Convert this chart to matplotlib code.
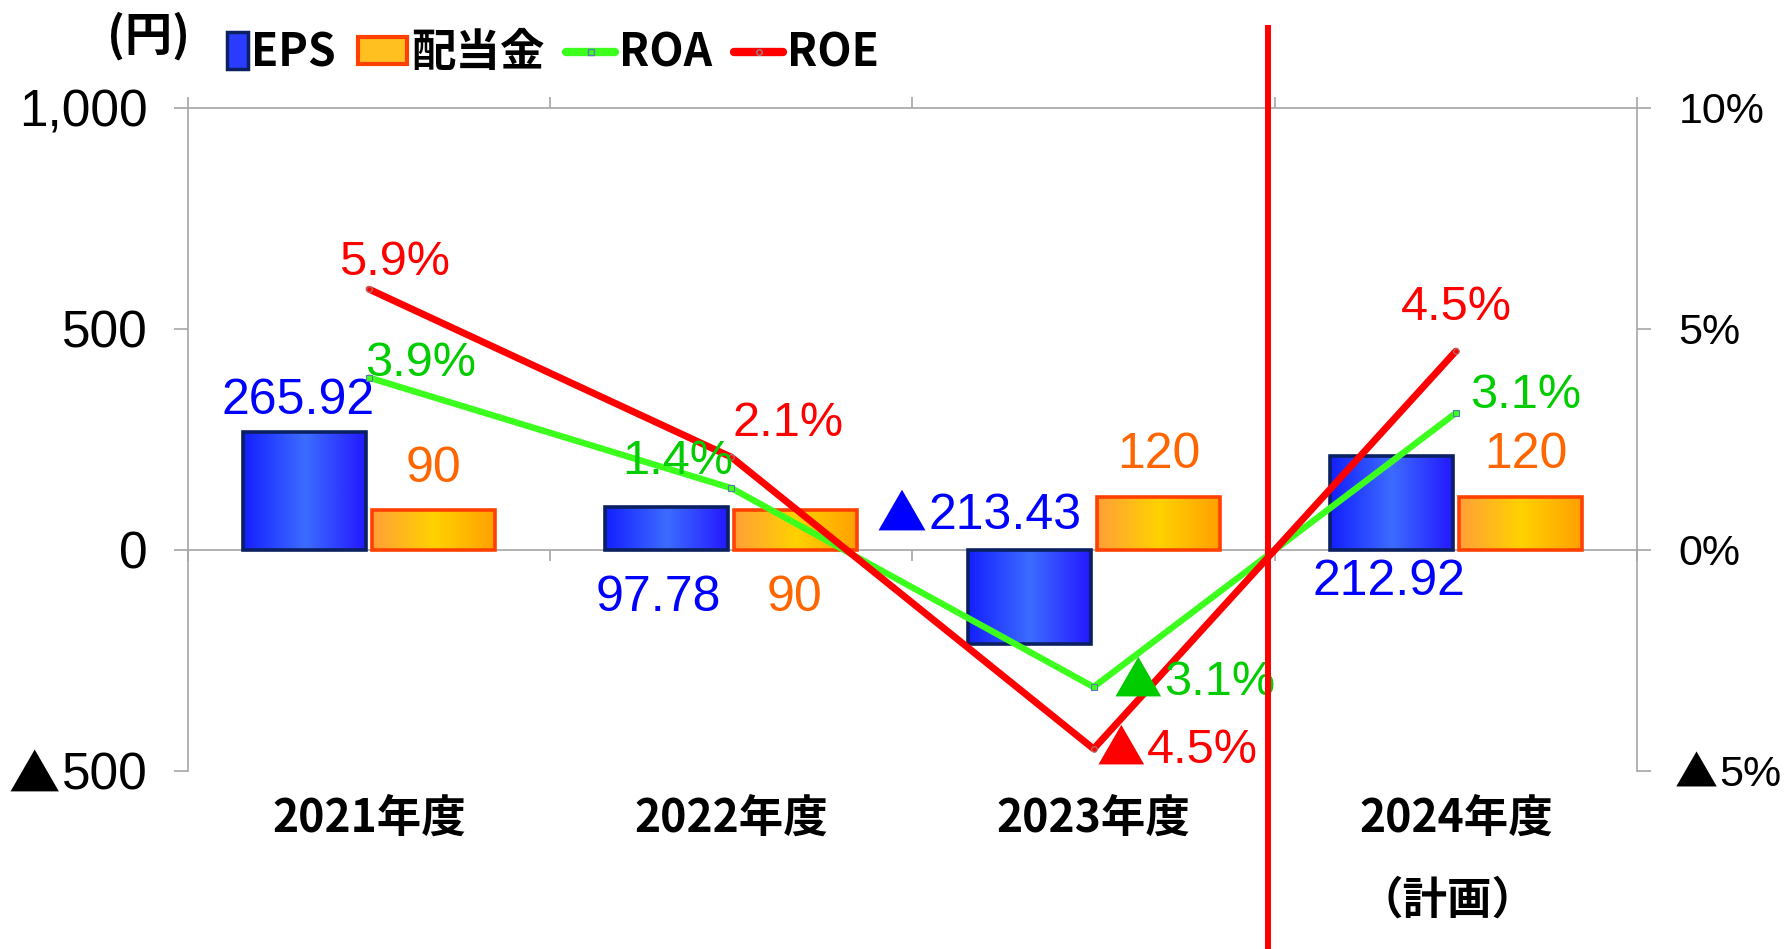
import numpy as np
import matplotlib.pyplot as plt
from matplotlib.patches import Patch, Rectangle
from matplotlib.lines import Line2D
from matplotlib.legend_handler import HandlerPatch
from matplotlib.transforms import ScaledTranslation
from matplotlib.colors import to_rgb

# ---- data ----
years = ['2021年度', '2022年度', '2023年度', '2024年度\n（計画）']
eps = [265.92, 97.78, -213.43, 212.92]
dividend = [90, 90, 120, 120]
roa = [3.9, 1.4, -3.1, 3.1]
roe = [5.9, 2.1, -4.5, 4.5]
yen_ticks = [-500, 0, 500, 1000]
pct_ticks = [-5, 0, 5, 10]

# label offsets in pixels from each mark (dx, dy)
eps_off = [(-7, 31), (-9, -91), (-24, 128), (-2, -126)]
div_off = [(0, 41), (-1, -88), (1, 42), (6, 42)]
roa_off = [(52, 14), (-54, 27), (126, 4), (70, 17)]
roe_off = [(25, 27), (57, 34), (109, -2), (0, 44)]

PLAN_DIVIDER = 2.48

NUM_FONT = ['Liberation Sans', 'DejaVu Sans']
JP_FONT = ['Noto Sans CJK JP', 'DejaVu Sans']
GRAY = '#a6a6a6'


def put_label(ax, xy, v, fmt, off, color, size):
    t = ax.annotate(fmt.format(abs(v)), xy, xytext=off, textcoords='offset pixels',
                    ha='center', va='center', color=color, fontsize=size,
                    family=NUM_FONT, zorder=6)
    if v < 0:
        ax.annotate('▲', xy=(0, 0.5), xycoords=t, xytext=(-2, 0),
                    textcoords='offset pixels', ha='right', va='center',
                    color=color, fontsize=size, family=JP_FONT, zorder=6)
    return t


def neg_ticks(ax, ticks, values, size, right=False, shift=0.0):
    # Japanese style: negative tick labels get a leading ▲
    for tick, v in zip(ticks, values):
        if v >= 0:
            continue
        lbl = tick.label2 if right else tick.label1
        if shift:
            # keep the ▲ where the label starts, push the number right
            lbl.set_transform(lbl.get_transform()
                              + ScaledTranslation(shift, 0, fig.dpi_scale_trans))
        ax.annotate('▲', xy=(0, 0.5), xycoords=lbl, xytext=(-2, 0),
                    textcoords='offset pixels', ha='right', va='center',
                    fontsize=size, family=JP_FONT, annotation_clip=False)


def gradient_fill(ax, bars, colors):
    cols = np.array([to_rgb(c) for c in colors])
    t = np.linspace(0, 1, 64)
    xp = np.linspace(0, 1, len(cols))
    grad = np.stack([np.interp(t, xp, cols[:, k]) for k in range(3)], axis=-1)[None, :, :]
    for b in bars:
        x0, y0 = b.get_x(), b.get_y()
        x1, y1 = x0 + b.get_width(), y0 + b.get_height()
        im = ax.imshow(grad, extent=(x0, x1, y0, y1), aspect='auto',
                       interpolation='bilinear', zorder=2)
        im.set_clip_path(b)


def narrow_patch(legend, orig_handle, xdescent, ydescent, width, height, fontsize):
    return Rectangle((-xdescent + width * 0.58, -ydescent - height * 0.2),
                     width * 0.42, height * 1.4)


fig = plt.figure(figsize=(17.85, 9.49), dpi=100)
ax = fig.add_axes([0.1053, 0.1876, 0.8118, 0.6986])
x = np.arange(len(years))
w = 0.34

eps_bars = ax.bar(x - 0.178, eps, w, facecolor='none', edgecolor='#0a2060', lw=2.6, zorder=3)
div_bars = ax.bar(x + 0.178, dividend, w, facecolor='none', edgecolor='#ff4000', lw=2.6, zorder=3)
gradient_fill(ax, eps_bars, ['#1420ff', '#3c6cff', '#2418ff'])
gradient_fill(ax, div_bars, ['#ffa038', '#ffd200', '#ffa000'])

ax.set_xlim(-0.5, 3.5)
ax.set_ylim(-500, 1000)
ax.set_yticks(yen_ticks)
ax.set_yticklabels(['{:,}'.format(abs(v)) for v in yen_ticks])

for s in ['left', 'top', 'bottom']:
    ax.spines[s].set_color(GRAY)
    ax.spines[s].set_linewidth(1.2)
ax.spines['right'].set_visible(False)
ax.spines['bottom'].set_position(('data', 0))

ax.set_xticks([-0.5, 0.5, 1.5, 2.5, 3.5])
ax.set_xticklabels([])
ax.tick_params(axis='x', which='major', top=True, bottom=True, direction='out',
               length=8, color=GRAY, width=1.2)
ax.tick_params(axis='y', length=10, color=GRAY, width=1.2, pad=19, labelsize=37)
for lbl in ax.get_yticklabels():
    lbl.set_family(NUM_FONT)

sec = ax.secondary_xaxis(0.0)
sec.set_xticks(x)
sec.set_xticklabels(years)
sec.spines['bottom'].set_visible(False)
sec.tick_params(length=0, pad=18)
for lbl in sec.get_xticklabels():
    lbl.set_family(JP_FONT)
    lbl.set_fontweight('bold')
    lbl.set_fontsize(32)
    lbl.set_linespacing(2.0)
    lbl.set_multialignment('left')

# bar labels
for i, v in enumerate(eps):
    put_label(ax, (x[i] - 0.178, v), v, '{:.2f}', eps_off[i], '#0000ff', 36)
for i, v in enumerate(dividend):
    put_label(ax, (x[i] + 0.178, v), v, '{:.0f}', div_off[i], '#ff6600', 36)

# right axis
ax2 = ax.twinx()
ax2.set_ylim(-5, 10)
ax2.set_yticks(pct_ticks)
ax2.set_yticklabels(['{}%'.format(abs(v)) for v in pct_ticks])
ax2.tick_params(axis='y', length=10, color=GRAY, width=1.2, pad=20, labelsize=31)
for lbl in ax2.get_yticklabels():
    lbl.set_family(NUM_FONT)
for s in ['left', 'top', 'bottom']:
    ax2.spines[s].set_visible(False)
ax2.spines['right'].set_color(GRAY)
ax2.spines['right'].set_linewidth(1.2)

ax2.plot(x, roa, color='#3cff1e', lw=4.6, marker='s', ms=4, mfc='#3cff1e',
         mec='#5a7ab0', mew=0.8, zorder=4, solid_capstyle='round')
ax2.plot(x, roe, color='#ff0000', lw=5, marker='o', ms=4, mfc='#ff0000',
         mec='#a08080', mew=0.8, zorder=5, solid_capstyle='round')

for i, v in enumerate(roa):
    put_label(ax2, (x[i], v), v, '{:.1f}%', roa_off[i], '#00cc00', 35)
for i, v in enumerate(roe):
    put_label(ax2, (x[i], v), v, '{:.1f}%', roe_off[i], '#ff0000', 35)

# plan divider
ax2.axvline(PLAN_DIVIDER, ymin=-0.3, ymax=1.12, color='#ff0000', lw=4.3,
            clip_on=False, zorder=7)

neg_ticks(ax, ax.yaxis.get_major_ticks(), yen_ticks, 37)
neg_ticks(ax2, ax2.yaxis.get_major_ticks(), pct_ticks, 31, right=True, shift=0.41)

# unit + legend
fig.text(0.083, 0.962, '(円)', fontsize=34, fontweight='bold', family=JP_FONT,
         ha='center', va='center')
eps_h = Patch(facecolor='#2a3cff', edgecolor='#0a2060', lw=2.5)
handles = [
    eps_h,
    Patch(facecolor='#ffc020', edgecolor='#ff4000', lw=3),
    Line2D([], [], color='#3cff1e', lw=6, marker='s', ms=4, mfc='#3cff1e',
           mec='#5a7ab0', solid_capstyle='round'),
    Line2D([], [], color='#ff0000', lw=6, marker='o', ms=4, mfc='#ff0000',
           mec='#a08080', solid_capstyle='round'),
]
fig.legend(handles, ['EPS', '配当金', 'ROA', 'ROE'], loc='center left',
           bbox_to_anchor=(0.1115, 0.944), ncol=4, frameon=False,
           prop={'family': JP_FONT, 'weight': 'bold', 'size': 32},
           handlelength=1.1, handleheight=0.55, handletextpad=0.08,
           columnspacing=0.5, borderpad=0, borderaxespad=0,
           handler_map={eps_h: HandlerPatch(patch_func=narrow_patch)})

fig.savefig('out.png', dpi=100)
